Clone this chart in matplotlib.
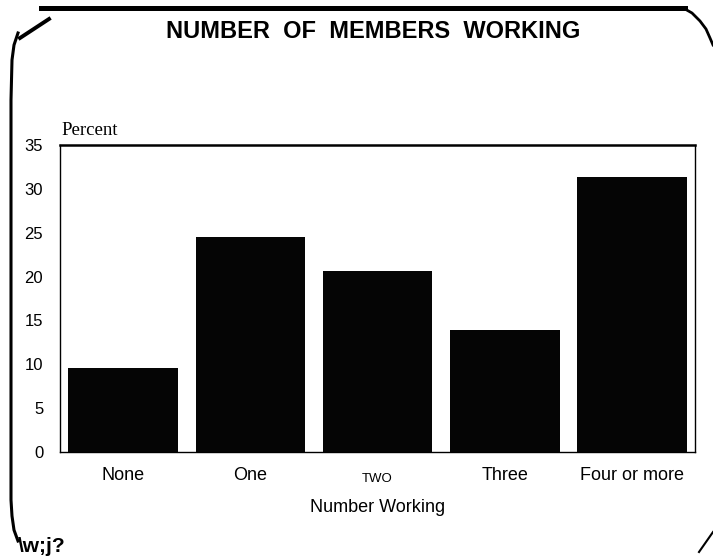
import matplotlib.pyplot as plt
import matplotlib.transforms as mtransforms
import numpy as np

# data
categories = ["None", "One", "TWO", "Three", "Four or more"]
percent = [9.6, 24.5, 20.6, 13.9, 31.4]
yticks = [0, 5, 10, 15, 20, 25, 30, 35]

W, H = 713, 558


def fx(px):
    return px / W


def fy(py):
    return 1 - py / H


fig = plt.figure(figsize=(7.13, 5.58), dpi=100)
ax = fig.add_axes([0.084, 0.19, 0.891, 0.55])

x = np.arange(len(categories))
ax.bar(x, percent, width=0.865, color="#050505")

ax.set_xlim(-0.5, 4.5)
ax.set_ylim(0, 35)
ax.set_yticks(yticks)
ax.set_yticklabels([str(t) for t in yticks], family="Liberation Sans", fontsize=12)
ax.set_xticks(x)
ax.set_xticklabels(categories, family="Liberation Sans", fontsize=13)
ax.tick_params(length=0)
ax.tick_params(axis="y", pad=12)
ax.tick_params(axis="x", pad=11)
# the scanned "TWO" is set smaller and sits a little lower
for lbl in ax.get_xticklabels():
    if lbl.get_text() == "TWO":
        lbl.set_fontsize(9.5)
        lbl.set_transform(lbl.get_transform()
                          + mtransforms.ScaledTranslation(0, -4 / 72, fig.dpi_scale_trans))

for side in ["left", "bottom", "right"]:
    ax.spines[side].set_linewidth(1.0)
ax.spines["top"].set_linewidth(1.8)

ax.set_xlabel("Number Working", family="Liberation Sans", fontsize=13, labelpad=10)
ax.text(0.002, 1.02, "Percent", transform=ax.transAxes, family="Liberation Serif",
        fontsize=13.5, ha="left", va="bottom")

fig.text(fx(373), fy(31), "NUMBER  OF  MEMBERS  WORKING", family="Liberation Sans",
         fontsize=17, fontweight="bold", ha="center", va="center")

# scanned page border
fig.add_artist(plt.Line2D([fx(41), fx(685)], [fy(8), fy(8)], color="black", lw=3.6))
fig.add_artist(plt.Line2D([fx(685), fx(692), fx(700), fx(706), fx(710), fx(713)],
                          [fy(9), fy(13), fy(21), fy(29), fy(38), fy(45)],
                          color="black", lw=2))
fig.add_artist(plt.Line2D([fx(49), fx(20)], [fy(19), fy(38)], color="black", lw=2.8))
fig.add_artist(plt.Line2D([fx(18), fx(14), fx(12), fx(11), fx(11), fx(12), fx(14), fx(18)],
                          [fy(33), fy(45), fy(60), fy(100), fy(500), fy(516), fy(530), fy(541)],
                          color="black", lw=2.2))
fig.add_artist(plt.Line2D([fx(699), fx(713)], [fy(552), fy(532)], color="black", lw=1.5))
fig.text(fx(18), fy(546), "\\w;j?", family="Liberation Sans", fontsize=15,
         fontweight="bold", ha="left", va="center")

fig.savefig("out.png", dpi=100)
